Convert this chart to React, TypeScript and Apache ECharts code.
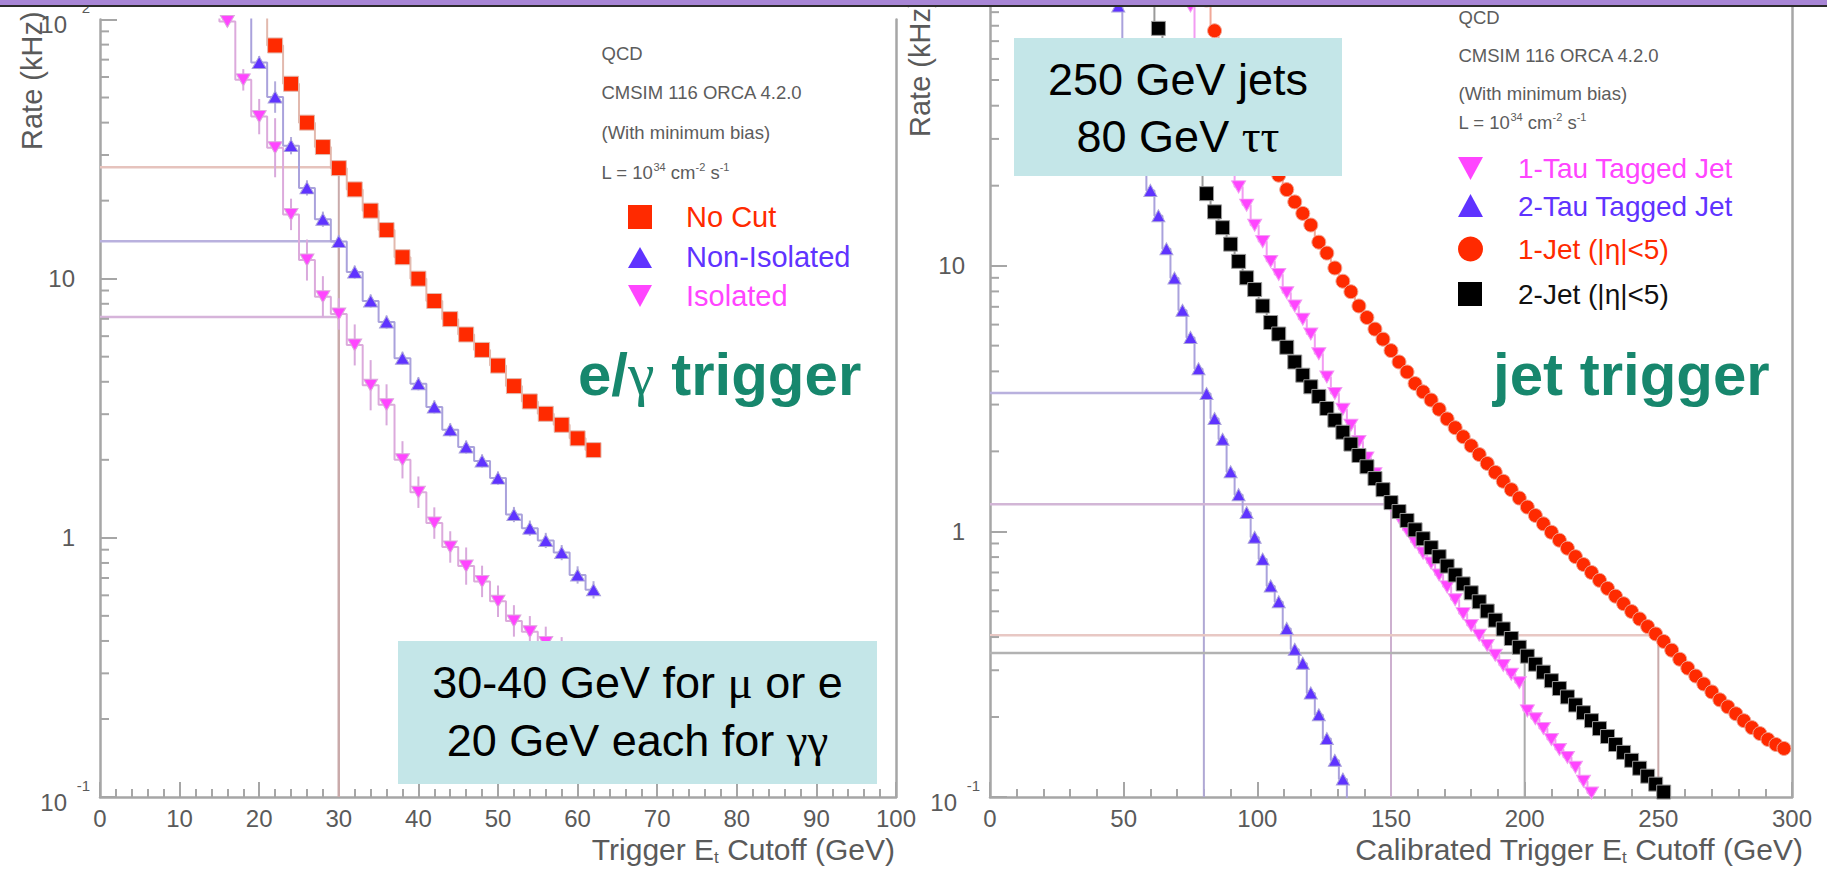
import React, { useEffect, useRef } from "react";
import * as echarts from "echarts";

// ---------------- Left panel (e/gamma trigger) ----------------
const noCutX = [20, 22, 24, 26, 28, 30, 32, 34, 36, 38, 40, 42, 44, 46, 48, 50, 52, 54, 56, 58, 60, 62];
const noCutV = [110, 79.4, 56.5, 40.0, 32.2, 26.7, 22.1, 18.3, 15.4, 12.1, 10.0, 8.2, 6.98, 6.09, 5.31, 4.62, 3.85, 3.36, 3.01, 2.73, 2.42, 2.18];

const nonIsoX = [18, 20, 22, 24, 26, 28, 30, 32, 34, 36, 38, 40, 42, 44, 46, 48, 50, 52, 54, 56, 58, 60, 62];
const nonIsoV = [120, 68.2, 50.2, 32.6, 22.4, 16.96, 13.9, 10.6, 8.2, 6.8, 4.93, 3.93, 3.2, 2.61, 2.24, 1.98, 1.7, 1.23, 1.09, 0.977, 0.877, 0.719, 0.63];
const nonIsoErr = [0, 0.06, 0.15, 0.08, 0.07, 0.07, 0.06, 0.06, 0.06, 0.06, 0.06, 0.06, 0.06, 0.06, 0.06, 0.06, 0.06, 0.07, 0.07, 0.07, 0.07, 0.08, 0.08];

const isoX = [14, 16, 18, 20, 22, 24, 26, 28, 30, 32, 34, 36, 38, 40, 42, 44, 46, 48, 50, 52, 54, 56, 58, 60, 62];
const isoV = [150, 98.3, 58.5, 42.2, 32.0, 17.7, 11.8, 8.52, 7.31, 5.55, 3.88, 3.26, 2.0, 1.5, 1.14, 0.922, 0.778, 0.679, 0.569, 0.478, 0.434, 0.395, 0.36, 0.32, 0.29];
const isoErr = [0, 0.05, 0.1, 0.17, 0.3, 0.15, 0.2, 0.2, 0.15, 0.2, 0.25, 0.2, 0.18, 0.15, 0.15, 0.15, 0.18, 0.15, 0.15, 0.15, 0.15, 0.15, 0.15, 0.15, 0.15];

const leftCutX = [30, 30, 30];
const leftCutV = [26.9, 13.95, 7.11];

// ---------------- Right panel (jet trigger) ----------------
const tau2X = [45, 48, 51, 54, 57, 60, 63, 66, 69, 72, 75, 78, 81, 84, 87, 90, 93, 96, 99, 102, 105, 108, 111, 114, 117, 120, 123, 126, 129, 132, 135];
const tau2V = [130, 95, 62, 38.2, 26.4, 19.2, 15.4, 11.57, 8.99, 6.79, 5.37, 4.09, 3.3, 2.66, 2.22, 1.675, 1.374, 1.177, 0.95, 0.786, 0.623, 0.543, 0.431, 0.36, 0.319, 0.2465, 0.204, 0.166, 0.1374, 0.1168, 0.095];

const tau1X = [72, 75, 78, 81, 84, 87, 90, 93, 96, 99, 102, 105, 108, 111, 114, 117, 120, 123, 126, 129, 132, 135, 138, 141, 144, 147, 150, 153, 156, 159, 162, 165, 168, 171, 174, 177, 180, 183, 186, 189, 192, 195, 198, 201, 204, 207, 210, 213, 216, 219, 222, 225];
const tau1V = [125, 95, 67.9, 52.9, 41.3, 32.2, 25.2, 19.8, 16.9, 14.2, 12.32, 10.38, 9.26, 7.91, 7.05, 6.29, 5.53, 4.66, 3.81, 3.3, 2.88, 2.51, 2.18, 1.89, 1.646, 1.435, 1.25, 1.128, 1.009, 0.91, 0.828, 0.76, 0.685, 0.618, 0.553, 0.49, 0.442, 0.406, 0.372, 0.342, 0.313, 0.29, 0.269, 0.211, 0.197, 0.181, 0.1646, 0.151, 0.141, 0.1294, 0.1147, 0.1035];

const jet1X = [81, 84, 87, 90, 93, 96, 99, 102, 105, 108, 111, 114, 117, 120, 123, 126, 129, 132, 135, 138, 141, 144, 147, 150, 153, 156, 159, 162, 165, 168, 171, 174, 177, 180, 183, 186, 189, 192, 195, 198, 201, 204, 207, 210, 213, 216, 219, 222, 225, 228, 231, 234, 237, 240, 243, 246, 249, 252, 255, 258, 261, 264, 267, 270, 273, 276, 279, 282, 285, 288, 291, 294, 297];
const jet1V = [100, 76.6, 65.6, 55.3, 46.5, 39.5, 33.6, 28.8, 24.9, 21.9, 19.33, 17.38, 15.73, 14.22, 12.26, 11.15, 9.8, 8.74, 7.98, 7.05, 6.38, 5.77, 5.29, 4.79, 4.34, 3.98, 3.6, 3.35, 3.12, 2.88, 2.65, 2.455, 2.27, 2.1, 1.946, 1.801, 1.667, 1.543, 1.435, 1.334, 1.234, 1.147, 1.067, 0.992, 0.926, 0.864, 0.803, 0.75, 0.7, 0.654, 0.61, 0.57, 0.534, 0.499, 0.468, 0.438, 0.411, 0.385, 0.357, 0.33, 0.3056, 0.2853, 0.2663, 0.2486, 0.2321, 0.2185, 0.2058, 0.1938, 0.1825, 0.1733, 0.1646, 0.1576, 0.1523];

const jet2X = [60, 63, 66, 69, 72, 75, 78, 81, 84, 87, 90, 93, 96, 99, 102, 105, 108, 111, 114, 117, 120, 123, 126, 129, 132, 135, 138, 141, 144, 147, 150, 153, 156, 159, 162, 165, 168, 171, 174, 177, 180, 183, 186, 189, 192, 195, 198, 201, 204, 207, 210, 213, 216, 219, 222, 225, 228, 231, 234, 237, 240, 243, 246, 249, 252];
const jet2V = [105, 78.2, 60, 47, 37, 29.5, 23.5, 18.67, 15.94, 13.9, 12.05, 10.38, 9.0, 8.13, 7.05, 6.11, 5.53, 4.93, 4.34, 3.87, 3.5, 3.22, 2.9, 2.62, 2.36, 2.13, 1.93, 1.75, 1.58, 1.435, 1.283, 1.187, 1.099, 1.013, 0.938, 0.868, 0.803, 0.74, 0.685, 0.634, 0.587, 0.543, 0.501, 0.463, 0.429, 0.395, 0.366, 0.339, 0.316, 0.295, 0.274, 0.256, 0.238, 0.222, 0.2076, 0.1938, 0.1809, 0.1689, 0.1576, 0.1472, 0.1374, 0.1283, 0.1198, 0.1118, 0.1044];

const rightCutX = [80, 150, 250, 200];
const rightCutV = [3.32, 1.265, 0.406, 0.348];

const yMinorTicks = [0.2, 0.3, 0.4, 0.5, 0.6, 0.7, 0.8, 0.9, 2, 3, 4, 5, 6, 7, 8, 9, 20, 30, 40, 50, 60, 70, 80, 90];

// ---------------- styles ----------------
const FONT = "'Liberation Sans', Arial, Helvetica, sans-serif";
const SERIF = "'Liberation Serif', 'DejaVu Serif', serif";
const AXIS = "#a6a6a6";
const LABEL = "#5a5a5a";
const INFO = "#5c5c5c";
const RED = "#ff2a00";
const BLUE = "#5f33ff";
const MAG = "#ff45ff";
const TEAL = "#17876d";
const BOX = "#c4e6e8";
const DOWN_TRI = "path://M0,0L20,0L10,17Z";

function lineSeries(xs: number[], vs: number[], grid: number, symbol: string, size: any, color: string, lineColor: string, z: number) {
  return {
    type: "line",
    xAxisIndex: grid,
    yAxisIndex: grid * 2,
    data: xs.map((x, i) => {
      const v = vs[i];
      return v > 100 || v < 0.1 ? { value: [x, v], symbol: "none" } : { value: [x, v] };
    }),
    step: "middle",
    symbol,
    symbolSize: size,
    showAllSymbol: true,
    itemStyle: { color, borderColor: lineColor, borderWidth: 1 },
    lineStyle: { color: lineColor, width: 2 },
    clip: true,
    silent: true,
    z,
  };
}

function errorSeries(xs: number[], vs: number[], errs: number[], grid: number, color: string) {
  const data: number[][] = [];
  xs.forEach((x, i) => {
    if (vs[i] <= 100 && errs[i] > 0) data.push([x, vs[i] / (1 + errs[i]), vs[i] * (1 + errs[i])]);
  });
  return {
    type: "custom",
    xAxisIndex: grid,
    yAxisIndex: grid * 2,
    data,
    silent: true,
    z: 2,
    renderItem: (_p: any, api: any) => {
      const a = api.coord([api.value(0), api.value(1)]);
      const b = api.coord([api.value(0), api.value(2)]);
      return { type: "line", shape: { x1: a[0], y1: a[1], x2: b[0], y2: b[1] }, style: { stroke: color, lineWidth: 2 } };
    },
  };
}

function minorTickSeries(grid: number) {
  return {
    type: "custom",
    xAxisIndex: grid,
    yAxisIndex: grid * 2,
    data: yMinorTicks.map((v) => [0, v]),
    silent: true,
    z: 3,
    renderItem: (_p: any, api: any) => {
      const p = api.coord([api.value(0), api.value(1)]);
      return { type: "line", shape: { x1: p[0], y1: p[1], x2: p[0] + 9, y2: p[1] }, style: { stroke: AXIS, lineWidth: 2 } };
    },
  };
}

function cutSeries(xs: number[], vs: number[], grid: number, hColors: string[], vColors: string[]) {
  const out: any[] = [];
  xs.forEach((x, i) => {
    out.push({
      type: "line", xAxisIndex: grid, yAxisIndex: grid * 2, symbol: "none", silent: true, z: 1,
      data: [[0, vs[i]], [x, vs[i]]], lineStyle: { color: hColors[i], width: 2.5 },
    });
    out.push({
      type: "line", xAxisIndex: grid, yAxisIndex: grid * 2, symbol: "none", silent: true, z: 1,
      data: [[x, vs[i]], [x, 0.1]], lineStyle: { color: vColors[i], width: 2 },
    });
  });
  return out;
}

const axisLine = { show: true, onZero: false, lineStyle: { color: AXIS, width: 2.5 } };

function xAxis(grid: number, max: number, interval: number) {
  return {
    type: "value", gridIndex: grid, min: 0, max, interval,
    axisLine,
    axisTick: { show: true, inside: true, length: 15, lineStyle: { color: AXIS, width: 2 } },
    minorTick: { show: true, splitNumber: 5, length: 8, lineStyle: { color: AXIS, width: 2 } },
    axisLabel: { margin: 9, color: LABEL, fontSize: 24, fontFamily: FONT },
    splitLine: { show: false },
  };
}

const logRich = {
  n: { fontSize: 24, fontFamily: FONT, color: LABEL, padding: [0, 15, 0, 0] },
  b: { fontSize: 24, fontFamily: FONT, color: LABEL, lineHeight: 24, padding: [0, 23, 6, 0] },
  s: { fontSize: 15, fontFamily: FONT, color: LABEL, lineHeight: 16 },
};

function yLogAxis(grid: number, showMax: boolean) {
  return {
    type: "log", logBase: 10, gridIndex: grid, min: 0.1, max: 100,
    axisLine,
    axisTick: { show: true, inside: true, length: 17, lineStyle: { color: AXIS, width: 2 } },
    axisLabel: {
      margin: 10,
      showMaxLabel: showMax,
      formatter: (val: number) => {
        const e = Math.round(Math.log10(val));
        if (e === 0) return "{n|1}";
        if (e === 1) return "{n|10}";
        return `{s|${e}}\n{b|10}`;
      },
      rich: logRich,
    },
    splitLine: { show: false },
  };
}

function yEdgeAxis(grid: number) {
  return {
    type: "value", gridIndex: grid, position: "right", min: 0, max: 1,
    axisLine, axisTick: { show: false }, axisLabel: { show: false }, splitLine: { show: false },
  };
}

function txt(x: number, y: number, text: string, size: number, fill: string, extra: any = {}) {
  return {
    type: "text", x, y, z: 100, silent: true,
    style: { text, fontSize: size, fontFamily: FONT, fill, align: "left", verticalAlign: "middle", ...extra },
  };
}

const lumiRich = {
  a: { fontSize: 18.5, fontFamily: FONT, fill: INFO, lineHeight: 22 },
  p: { fontSize: 11, fontFamily: FONT, fill: INFO, lineHeight: 10, verticalAlign: "top" },
};
const subRich = (size: number) => ({
  a: { fontSize: size, fontFamily: FONT, fill: LABEL, lineHeight: 34 },
  t: { fontSize: 17, fontFamily: FONT, fill: LABEL, lineHeight: 14, verticalAlign: "bottom" },
});
const greek = { g: { fontSize: 47, fontFamily: SERIF, fill: "#000" } };

function infoBlock(x: number, ys: number[]) {
  return [
    txt(x, ys[0], "QCD", 18.5, INFO),
    txt(x, ys[1], "CMSIM 116 ORCA 4.2.0", 18.5, INFO),
    txt(x, ys[2], "(With minimum bias)", 18.5, INFO),
    txt(x, ys[3], "{a|L = 10}{p|34}{a| cm}{p|-2}{a| s}{p|-1}", 18.5, INFO, { rich: lumiRich }),
  ];
}

const graphicElements: any[] = [
  // slide band at the top
  { type: "rect", z: 200, silent: true, shape: { x: 0, y: 0, width: 1827, height: 5 }, style: { fill: "#a886d6" } },
  { type: "rect", z: 200, silent: true, shape: { x: 0, y: 5, width: 1827, height: 2 }, style: { fill: "#2c2c2c" } },
  // axis titles
  { type: "text", x: 32, y: 150, rotation: Math.PI / 2, z: 100, silent: true, style: { text: "Rate (kHz)", fontSize: 29, fontFamily: FONT, fill: LABEL, align: "left", verticalAlign: "middle" } },
  { type: "text", x: 920, y: 137, rotation: Math.PI / 2, z: 100, silent: true, style: { text: "Rate (kHz)", fontSize: 29, fontFamily: FONT, fill: LABEL, align: "left", verticalAlign: "middle" } },
  txt(895, 849, "{a|Trigger E}{t|t}{a| Cutoff (GeV)}", 30, LABEL, { align: "right", rich: subRich(30) }),
  txt(1803, 849, "{a|Calibrated Trigger E}{t|t}{a| Cutoff (GeV)}", 30, LABEL, { align: "right", rich: subRich(30) }),
  // info texts
  ...infoBlock(601.5, [53, 92, 132, 172]),
  ...infoBlock(1458.5, [17, 55, 93, 122]),
  // left legend
  { type: "rect", z: 100, silent: true, shape: { x: 628, y: 205, width: 24, height: 24 }, style: { fill: RED } },
  { type: "polygon", z: 100, silent: true, shape: { points: [[628, 268], [652, 268], [640, 247]] }, style: { fill: BLUE } },
  { type: "polygon", z: 100, silent: true, shape: { points: [[628, 285], [652, 285], [640, 307]] }, style: { fill: MAG } },
  txt(686, 217, "No Cut", 29, RED),
  txt(686, 257, "Non-Isolated", 29, BLUE),
  txt(686, 296, "Isolated", 29, MAG),
  // right legend
  { type: "polygon", z: 100, silent: true, shape: { points: [[1458, 157], [1483, 157], [1470.5, 180]] }, style: { fill: MAG } },
  { type: "polygon", z: 100, silent: true, shape: { points: [[1458, 217], [1483, 217], [1470.5, 194]] }, style: { fill: BLUE } },
  { type: "circle", z: 100, silent: true, shape: { cx: 1470.5, cy: 249, r: 12.5 }, style: { fill: RED } },
  { type: "rect", z: 100, silent: true, shape: { x: 1458, y: 282, width: 24, height: 24 }, style: { fill: "#000" } },
  txt(1518, 168, "1-Tau Tagged Jet", 28, MAG),
  txt(1518, 206, "2-Tau Tagged Jet", 28, BLUE),
  txt(1518, 249, "1-Jet (|η|<5)", 28, RED),
  txt(1518, 294, "2-Jet (|η|<5)", 28, "#111"),
  // big labels
  txt(578, 374, "e/{g|γ} trigger", 60, TEAL, { fontWeight: "bold", rich: { g: { fontSize: 60, fontFamily: SERIF, fill: TEAL } } }),
  txt(1493, 374, "jet trigger", 60, TEAL, { fontWeight: "bold" }),
  // annotation boxes
  { type: "rect", z: 100, silent: true, shape: { x: 398, y: 641, width: 479, height: 143 }, style: { fill: BOX } },
  txt(637.5, 682, "30-40 GeV for {g|μ} or e", 45, "#000", { align: "center", rich: greek }),
  txt(637.5, 740, "20 GeV each for {g|γγ}", 45, "#000", { align: "center", rich: greek }),
  { type: "rect", z: 100, silent: true, shape: { x: 1014, y: 38, width: 328, height: 138 }, style: { fill: BOX } },
  txt(1178, 79, "250 GeV jets", 45, "#000", { align: "center" }),
  txt(1178, 136, "80 GeV {g|ττ}", 45, "#000", { align: "center", rich: greek }),
];

const option: any = {
  animation: false,
  backgroundColor: "#ffffff",
  grid: [
    { left: 100, top: 8, width: 796, height: 789 },
    { left: 990, top: -7, width: 802, height: 804 },
  ],
  xAxis: [xAxis(0, 100, 10), xAxis(1, 300, 50)],
  yAxis: [yLogAxis(0, true), yEdgeAxis(0), yLogAxis(1, false), yEdgeAxis(1)],
  series: [
    ...cutSeries(leftCutX, leftCutV, 0, ["#e6c3bd", "#b9b1de", "#d6b4da"], ["#c9aaaa", "#c9aaaa", "#c9aaaa"]),
    ...cutSeries(rightCutX, rightCutV, 1, ["#b9b1de", "#d2b6d6", "#e8c8c4", "#b2b2b2"], ["#b0a8d4", "#cdb0cf", "#c9aaaa", "#aaaaaa"]),
    minorTickSeries(0),
    minorTickSeries(1),
    errorSeries(isoX, isoV, isoErr, 0, "#d9a9dc"),
    errorSeries(nonIsoX, nonIsoV, nonIsoErr, 0, "#b3abdc"),
    lineSeries(isoX, isoV, 0, DOWN_TRI, [14, 12], MAG, "#dcaadc", 4),
    lineSeries(nonIsoX, nonIsoV, 0, "triangle", [14, 12], BLUE, "#aaa2dc", 5),
    lineSeries(noCutX, noCutV, 0, "rect", 15, RED, "#e2b9ae", 6),
    lineSeries(tau2X, tau2V, 1, "triangle", [13, 12], BLUE, "#aaa2dc", 4),
    lineSeries(tau1X, tau1V, 1, DOWN_TRI, [14, 12], MAG, "#f29cf2", 5),
    lineSeries(jet1X, jet1V, 1, "circle", 14, RED, "#f0a898", 6),
    lineSeries(jet2X, jet2V, 1, "rect", 14, "#000000", "#9a9a9a", 7),
  ],
  graphic: { elements: graphicElements },
};

export default function App() {
  const ref = useRef<HTMLDivElement>(null);
  useEffect(() => {
    if (!ref.current) return;
    const chart = echarts.init(ref.current, undefined, { renderer: "svg" });
    chart.setOption(option);
    return () => chart.dispose();
  }, []);
  return (
    <div
      ref={ref}
      style={{ position: "absolute", left: 0, top: 0, width: 1827, height: 870, background: "#fff" }}
    />
  );
}
